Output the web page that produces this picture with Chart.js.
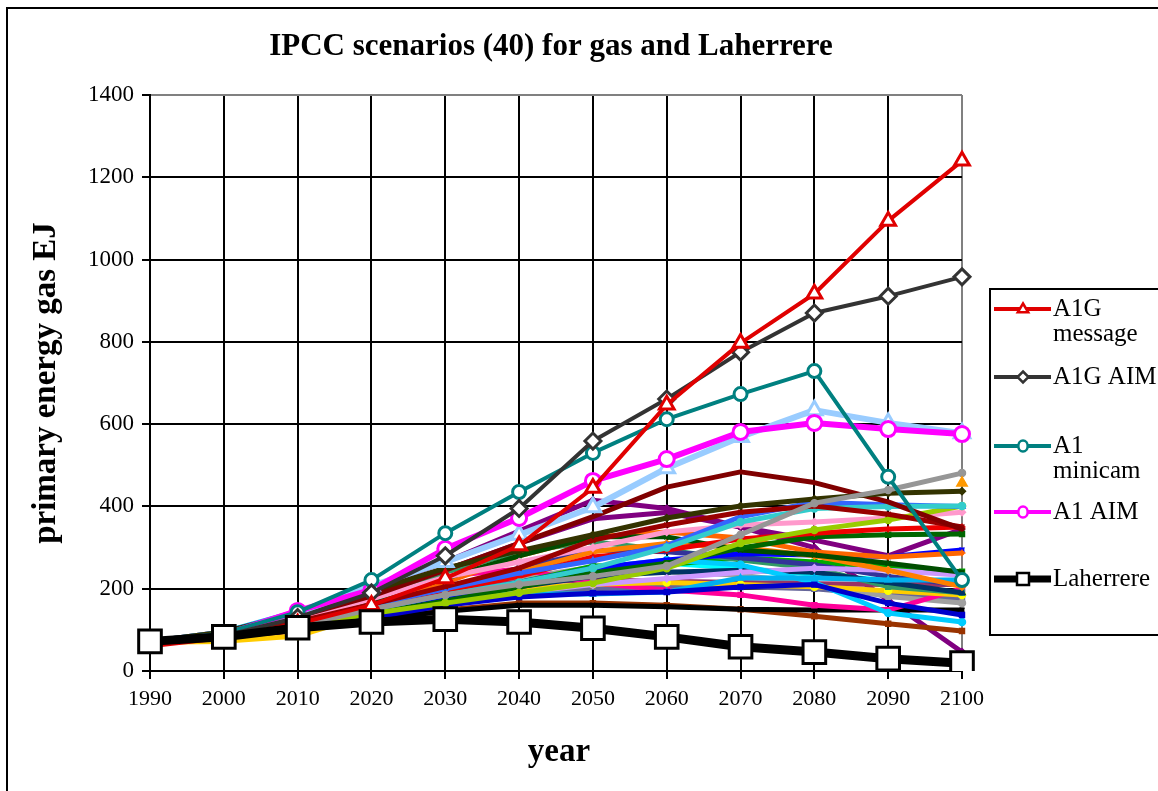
<!DOCTYPE html>
<html>
<head>
<meta charset="utf-8">
<title>IPCC scenarios (40) for gas and Laherrere</title>
<script src="https://cdn.jsdelivr.net/npm/chart.js@4.4.1/dist/chart.umd.min.js"></script>
<style>
  html, body { margin: 0; padding: 0; background: #ffffff; }
  #wrap { width: 1158px; height: 791px; position: relative; }
  canvas { display: block; }
</style>
</head>
<body>
<div id="wrap"><canvas id="chart" width="1158" height="791"></canvas></div>
<script>
// ---- data (primary energy from gas, EJ) ----
const years = ['1990', '2000', '2010', '2020', '2030', '2040', '2050', '2060', '2070', '2080', '2090', '2100'];
const yTicks = [0, 200, 400, 600, 800, 1000, 1200, 1400];

// highlighted scenarios
const a1gMessage = [60, 80, 115, 160, 225, 305, 445, 647, 797, 917, 1094, 1240];
const a1gAim     = [70, 85, 130, 190, 280, 395, 559, 661, 775, 870, 911, 958];
const a1Minicam  = [72, 92, 143, 221, 335, 435, 530, 612, 673, 729, 472, 221];
const a1Aim      = [70, 88, 146, 197, 297, 372, 462, 515, 581, 603, 588, 576];
const a1Asf      = [70, 86, 140, 207, 265, 331, 398, 493, 569, 634, 603, 578];
const laherrere  = [72, 83, 105, 119, 126, 119, 104, 83, 59, 46, 30, 19];

// remaining IPCC scenarios
const a1bMessage = [72, 86, 110, 150, 185, 210, 230, 255, 331, 408, 440, 481];
const a1bMaria   = [null, null, null, null, null, null, 395, null, null, null, null, 457];
const a1bAim     = [72, 95, 140, 195, 250, 292, 331, 372, 401, 418, 432, 437];
const a1cMessage = [72, 92, 132, 182, 245, 310, 375, 447, 484, 458, 411, 345];
const a1cAim     = [72, 88, 120, 162, 205, 250, 318, 355, 386, 401, 381, 350];
const a1cMinicam = [72, 88, 115, 150, 185, 215, 250, 300, 362, 395, 400, 401];
const a1gMinicam = [72, 88, 118, 160, 200, 238, 268, 305, 375, 410, 404, 400];
const a1tAim     = [72, 84, 105, 140, 165, 190, 214, 250, 311, 343, 367, 401];
const a1tMessage = [72, 90, 125, 175, 228, 265, 300, 338, 355, 362, 372, 386];
const a1tMaria   = [72, 88, 118, 160, 195, 230, 277, 294, 321, 335, 345, 350];
const a2Asf      = [72, 84, 110, 140, 170, 204, 238, 262, 299, 326, 331, 333];
const a2Aim      = [72, 90, 125, 170, 225, 280, 326, 326, 294, 282, 262, 240];
const a2Message  = [72, 88, 120, 165, 215, 280, 326, 338, 323, 289, 277, 287];
const a2Minicam  = [72, 85, 112, 150, 190, 240, 290, 310, 300, 280, 245, 205];
const a2Image    = [72, 85, 110, 145, 180, 215, 250, 270, 285, 282, 278, 294];
const a2Maria    = [72, 82, 100, 130, 160, 180, 189, 192, 204, 210, 165, 136];
const b1Image    = [72, 95, 145, 180, 185, 187, 187, 192, 226, 226, 221, 221];
const b1Aim      = [72, 85, 112, 145, 180, 210, 250, 270, 258, 215, 141, 119];
const b1Asf      = [72, 85, 110, 140, 165, 190, 210, 225, 240, 250, 245, 233];
const b1Message  = [72, 88, 118, 155, 200, 250, 294, 290, 275, 258, 230, 209];
const b1Maria    = [72, 85, 110, 145, 175, 205, 230, 240, 245, 240, 215, 190];
const b1Minicam  = [72, 90, 130, 180, 240, 290, 314, 294, 270, 250, 205, 190];
const b2Message  = [72, 84, 108, 140, 175, 215, 255, 258, 275, 265, 253, 241];
const b2Aim      = [70, 72, 85, 140, 180, 200, 211, 215, 210, 205, 195, 185];
const b2Asf      = [72, 90, 130, 190, 230, 248, 214, 197, 185, 160, 148, 200];
const b2Image    = [72, 88, 120, 165, 200, 215, 221, 218, 215, 212, 210, 210];
const b2Maria    = [72, 86, 115, 150, 190, 225, 253, 241, 233, 213, 181, 165];
const b2Minicam  = [72, 80, 100, 125, 145, 160, 160, 156, 150, 148, 148, 148];
const a1tMinicam = [72, 80, 98, 122, 148, 165, 165, 160, 150, 133, 115, 97];
const a1v1Minicam= [72, 95, 140, 200, 265, 340, 415, 395, 350, 300, 172, 46];
const a1v2Minicam= [72, 92, 135, 185, 245, 310, 370, 385, 350, 318, 280, 345];
const b1tMessage = [72, 85, 110, 140, 170, 190, 200, 205, 205, 200, 185, 175];
const b1hMessage = [72, 88, 115, 150, 185, 215, 240, 262, 250, 235, 220, 210];

const SERIF = '"Liberation Serif", "Times New Roman", serif';

// ---- series styling ----
function mainSeries(label, data, color, lineW, style, radius, order) {
  return {
    label, data, order,
    borderColor: color, backgroundColor: '#ffffff',
    borderWidth: lineW,
    pointStyle: style, pointRadius: radius,
    pointBorderColor: color, pointBackgroundColor: '#ffffff', pointBorderWidth: 3,
    tension: 0
  };
}
function bgSeries(label, data, color, style, markColor) {
  return {
    label, data, order: 20,
    borderColor: color, backgroundColor: color,
    borderWidth: 5,
    pointStyle: style, pointRadius: 3.5,
    pointBorderColor: markColor || color, pointBackgroundColor: markColor || color,
    pointBorderWidth: 1.5,
    tension: 0
  };
}

const datasets = [
  mainSeries('Laherrere', laherrere, '#000000', 9, 'rect', 16, 0),
  mainSeries('A1G message', a1gMessage, '#E00000', 4, 'triangle', 8.5, 1),
  mainSeries('A1G AIM', a1gAim, '#333333', 4, 'rectRot', 8, 2),
  mainSeries('A1 minicam', a1Minicam, '#008080', 4, 'circle', 6.5, 3),
  mainSeries('A1 AIM', a1Aim, '#FF00FF', 6, 'circle', 7.5, 4),
  mainSeries('A1 ASF', a1Asf, '#99CCFF', 6, 'triangle', 9, 5),
  Object.assign(bgSeries('A1B MARIA', a1bMaria, '#FF9900', 'triangle'), { showLine: false, pointRadius: 6, order: 6 }),
  bgSeries('A1B MESSAGE', a1bMessage, '#969696', 'circle'),
  bgSeries('A1B AIM', a1bAim, '#333300', 'rectRot'),
  bgSeries('A1C MESSAGE', a1cMessage, '#800000', 'line'),
  bgSeries('A1C AIM', a1cAim, '#990000', 'crossRot'),
  bgSeries('A1C MiniCAM', a1cMinicam, '#33CCCC', 'circle'),
  bgSeries('A1G MiniCAM', a1gMinicam, '#3366FF', 'triangle'),
  bgSeries('A1T AIM', a1tAim, '#99CC00', 'circle'),
  bgSeries('A1T MESSAGE', a1tMessage, '#FF99CC', 'rectRot'),
  bgSeries('A1T MARIA', a1tMaria, '#EE0000', 'cross'),
  bgSeries('A2 ASF', a2Asf, '#006600', 'rect'),
  bgSeries('A2 AIM', a2Aim, '#004D00', 'crossRot'),
  bgSeries('A2 MESSAGE', a2Message, '#FF6600', 'cross'),
  bgSeries('A2 MiniCAM', a2Minicam, '#FF7F00', 'rectRot'),
  bgSeries('A2 IMAGE', a2Image, '#0000FF', 'crossRot'),
  bgSeries('A2 MARIA', a2Maria, '#0000CC', 'rect'),
  bgSeries('B1 IMAGE', b1Image, '#00B0F0', 'triangle'),
  bgSeries('B1 AIM', b1Aim, '#00CCFF', 'circle'),
  bgSeries('B1 ASF', b1Asf, '#CC99FF', 'rectRot'),
  bgSeries('B1 MESSAGE', b1Message, '#333399', 'crossRot'),
  bgSeries('B1 MARIA', b1Maria, '#003366', 'triangle'),
  bgSeries('B1 MiniCAM', b1Minicam, '#339966', 'rect'),
  bgSeries('B2 MESSAGE', b2Message, '#00AA00', 'rect'),
  bgSeries('B2 AIM', b2Aim, '#FFCC00', 'circle', '#FFFF00'),
  bgSeries('B2 ASF', b2Asf, '#FF0099', 'rect'),
  bgSeries('B2 IMAGE', b2Image, '#993366', 'triangle'),
  bgSeries('B2 MARIA', b2Maria, '#A0A0A0', 'circle'),
  bgSeries('B2 MiniCAM', b2Minicam, '#000000', 'crossRot'),
  bgSeries('A1T MiniCAM', a1tMinicam, '#993300', 'rect'),
  bgSeries('A1v1 MiniCAM', a1v1Minicam, '#800080', 'rectRot'),
  bgSeries('A1v2 MiniCAM', a1v2Minicam, '#800080', 'crossRot'),
  bgSeries('B1T MESSAGE', b1tMessage, '#666699', 'rect'),
  bgSeries('B1High MESSAGE', b1hMessage, '#00FFFF', 'circle')
];

// ---- legend entries, title and frame drawn on the canvas ----
const legendEntries = [
  { label: 'A1G message', lines: ['A1G', 'message'] },
  { label: 'A1G AIM', lines: ['A1G AIM'] },
  { label: 'A1 minicam', lines: ['A1', 'minicam'] },
  { label: 'A1 AIM', lines: ['A1 AIM'] },
  { label: 'Laherrere', lines: ['Laherrere'] }
];

function drawMarker(ctx, style, x, y, r, stroke, fill, lw) {
  ctx.save();
  ctx.lineWidth = lw;
  ctx.strokeStyle = stroke;
  ctx.fillStyle = fill;
  ctx.beginPath();
  if (style === 'triangle') {
    ctx.moveTo(x, y - r);
    ctx.lineTo(x + r * 0.95, y + r * 0.6);
    ctx.lineTo(x - r * 0.95, y + r * 0.6);
    ctx.closePath();
  } else if (style === 'rectRot') {
    ctx.moveTo(x, y - r); ctx.lineTo(x + r, y); ctx.lineTo(x, y + r); ctx.lineTo(x - r, y); ctx.closePath();
  } else if (style === 'rect') {
    ctx.rect(x - r, y - r, 2 * r, 2 * r);
  } else {
    ctx.ellipse(x, y, r * 0.85, r, 0, 0, Math.PI * 2);
  }
  ctx.fill();
  ctx.stroke();
  ctx.restore();
}

const decorPlugin = {
  id: 'decor',
  afterDraw(chart) {
    const ctx = chart.ctx;
    ctx.save();
    // outer frame
    ctx.strokeStyle = '#000000';
    ctx.lineWidth = 2;
    ctx.strokeRect(7, 8, 1180, 810);

    // title
    ctx.fillStyle = '#000000';
    ctx.textAlign = 'center';
    ctx.textBaseline = 'middle';
    ctx.font = 'bold 31px ' + SERIF;
    ctx.fillText('IPCC scenarios (40) for gas and Laherrere', 551, 47);

    // axis titles
    ctx.font = 'bold 33px ' + SERIF;
    ctx.fillText('year', 559, 752);
    ctx.save();
    ctx.translate(46, 383);
    ctx.rotate(-Math.PI / 2);
    ctx.font = 'bold 33px ' + SERIF;
    ctx.fillText('primary energy gas EJ', 0, 0);
    ctx.restore();

    // legend box
    ctx.lineWidth = 2;
    ctx.strokeStyle = '#000000';
    ctx.strokeRect(990, 289, 220, 346);
    const rows = [309, 377, 446, 512, 579];
    ctx.textAlign = 'left';
    ctx.font = '25px ' + SERIF;
    legendEntries.forEach((e, i) => {
      const ds = chart.data.datasets.find(d => d.label === e.label);
      const y = rows[i];
      ctx.strokeStyle = ds.borderColor;
      ctx.lineWidth = ds.label === 'Laherrere' ? 7 : 4;
      ctx.beginPath();
      ctx.moveTo(994, y);
      ctx.lineTo(1051, y);
      ctx.stroke();
      const r = ds.label === 'Laherrere' ? 6 : 5.5;
      drawMarker(ctx, ds.pointStyle, 1023, y, r, ds.borderColor, '#ffffff', 2.5);
      ctx.fillStyle = '#000000';
      e.lines.forEach((t, k) => ctx.fillText(t, 1053, y + k * 25));
    });
    ctx.restore();
  }
};

new Chart(document.getElementById('chart'), {
  type: 'line',
  data: { labels: years, datasets },
  plugins: [decorPlugin],
  options: {
    responsive: false,
    animation: false,
    devicePixelRatio: 1,
    layout: { padding: { top: 95, left: 0, right: 196, bottom: 0 } },
    plugins: { legend: { display: false }, title: { display: false }, tooltip: { enabled: false } },
    elements: { line: { borderCapStyle: 'round', borderJoinStyle: 'round' } },
    scales: {
      x: {
        type: 'category',
        offset: false,
        grid: {
          color: c => (c.index === years.length - 1 ? '#808080' : '#000000'),
          tickColor: '#000000',
          lineWidth: 2,
          tickLength: 8,
          drawTicks: true
        },
        border: { color: '#000000', width: 2 },
        ticks: { color: '#000000', font: { family: SERIF, size: 22 }, padding: 7, maxRotation: 0, autoSkip: false },
        afterFit: s => { s.height = 120; }
      },
      y: {
        min: 0, max: 1400,
        afterBuildTicks: s => { s.ticks = yTicks.map(v => ({ value: v })); },
        grid: {
          color: c => (c.tick && c.tick.value === 1400 ? '#808080' : '#000000'),
          tickColor: '#000000',
          lineWidth: 2,
          tickLength: 8
        },
        border: { color: '#000000', width: 2 },
        ticks: { color: '#000000', font: { family: SERIF, size: 23 }, padding: 8, callback: v => String(v) },
        afterFit: s => { s.width = 150; }
      }
    }
  }
});
</script>
</body>
</html>
